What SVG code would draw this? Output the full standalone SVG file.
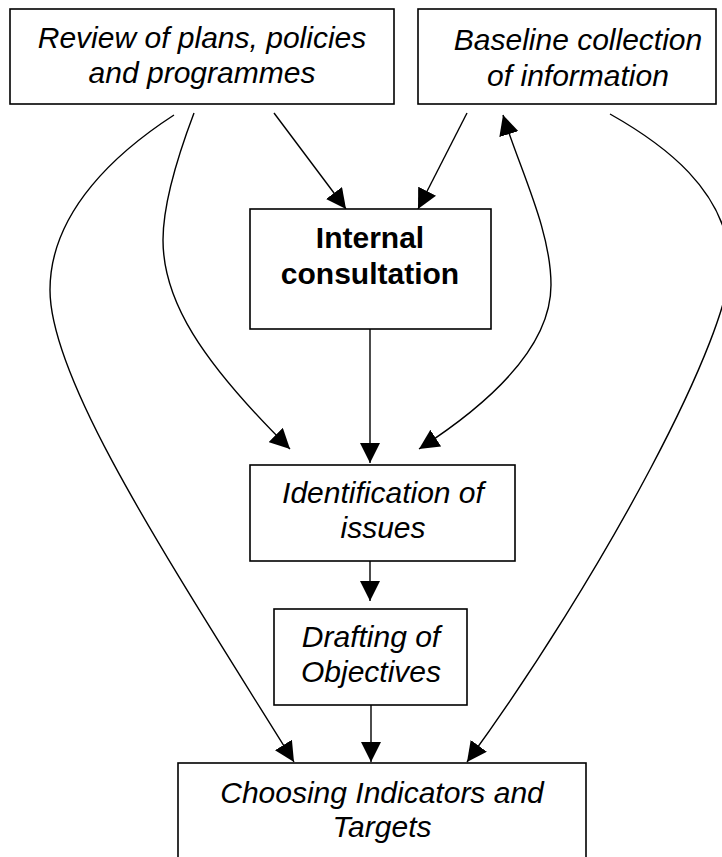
<svg xmlns="http://www.w3.org/2000/svg" width="722" height="857" viewBox="0 0 722 857">
<style>
.box{fill:#fff;stroke:#000;stroke-width:1.6}
.t{font-family:"Liberation Sans",Arial,sans-serif;font-size:30px;font-style:italic;text-anchor:middle;fill:#000}
.b{font-family:"Liberation Sans",Arial,sans-serif;font-size:30px;font-weight:bold;text-anchor:middle;fill:#000}
.c{fill:none;stroke:#000;stroke-width:1.4}
</style>
<defs>
<marker id="ah" markerUnits="userSpaceOnUse" markerWidth="20" markerHeight="20" refX="20" refY="10" orient="auto-start-reverse">
<path d="M0,0 L20,10 L0,20 Z" fill="#000"/>
</marker>
</defs>
<rect width="722" height="857" fill="#fff"/>
<g id="connectors">
<path class="c" d="M274,113 L346,209" marker-end="url(#ah)"/>
<path class="c" d="M467,113 L418,209" marker-end="url(#ah)"/>
<path class="c" d="M370,320 L370,463" marker-end="url(#ah)"/>
<path class="c" d="M370,552 L370,601" marker-end="url(#ah)"/>
<path class="c" d="M371,692 L371,762" marker-end="url(#ah)"/>
<path class="c" d="M194,113 C180,150 163,200 163,240 C163,300 200,360 290,449" marker-end="url(#ah)"/>
<path class="c" d="M503,115 C520,170 551,230 551,285 C551,345 495,400 419,449" marker-start="url(#ah)" marker-end="url(#ah)"/>
<path class="c" d="M174,115 C120,150 50,210 50,290 C50,380 165,555 294,762" marker-end="url(#ah)"/>
<path class="c" d="M610,114 C665,145 725,190 730,260 C735,330 600,580 467,762" marker-end="url(#ah)"/>
</g>
<g id="review">
<rect class="box" x="10" y="9" width="384" height="95"/>
<text class="t" x="202" y="48">Review of plans, policies</text>
<text class="t" x="202" y="83">and programmes</text>
</g>
<g id="baseline">
<rect class="box" x="418" y="9" width="298" height="95"/>
<text class="t" x="578" y="50">Baseline collection</text>
<text class="t" x="578" y="86">of information</text>
</g>
<g id="internal">
<rect class="box" x="250" y="209" width="241" height="120"/>
<text class="b" x="370" y="248">Internal</text>
<text class="b" x="370" y="284">consultation</text>
</g>
<g id="identification">
<rect class="box" x="250" y="465" width="265" height="96"/>
<text class="t" x="383" y="503">Identification of</text>
<text class="t" x="383" y="538">issues</text>
</g>
<g id="drafting">
<rect class="box" x="274" y="609" width="193" height="96"/>
<text class="t" x="371" y="647">Drafting of</text>
<text class="t" x="371" y="682">Objectives</text>
</g>
<g id="choosing">
<rect class="box" x="178" y="763" width="408" height="110"/>
<text class="t" x="382" y="803">Choosing Indicators and</text>
<text class="t" x="382" y="837">Targets</text>
</g>
</svg>
